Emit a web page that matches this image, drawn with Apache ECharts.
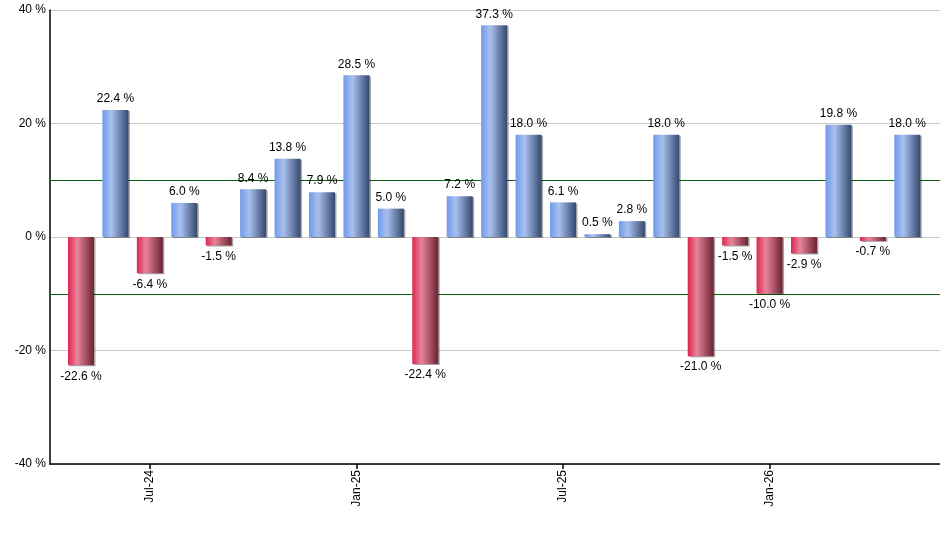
<!DOCTYPE html>
<html>
<head>
<meta charset="utf-8">
<script src="https://cdn.jsdelivr.net/npm/echarts@6/dist/echarts.min.js"></script>
<style>
  html, body { margin: 0; padding: 0; background: #fff; }
  #chart { width: 940px; height: 550px; }
</style>
</head>
<body>
<div id="chart"></div>
<script>
// monthly returns, May-24 .. May-26
const months = [
  "May-24", "Jun-24", "Jul-24", "Aug-24", "Sep-24", "Oct-24", "Nov-24", "Dec-24",
  "Jan-25", "Feb-25", "Mar-25", "Apr-25", "May-25", "Jun-25", "Jul-25", "Aug-25",
  "Sep-25", "Oct-25", "Nov-25", "Dec-25", "Jan-26", "Feb-26", "Mar-26", "Apr-26", "May-26"
];
const returns = [
  -22.6, 22.4, -6.4, 6.0, -1.5, 8.4, 13.8, 7.9,
  28.5, 5.0, -22.4, 7.2, 37.3, 18.0, 6.1, 0.5,
  2.8, 18.0, -21.0, -1.5, -10.0, -2.9, 19.8, -0.7, 18.0
];
const labelMonths = ["Jul-24", "Jan-25", "Jul-25", "Jan-26"];
const bandLines = [10, -10];
const yTicks = [-40, -20, 0, 20, 40];

const FONT = "Liberation Sans";

const grad = (a, b, c) => new echarts.graphic.LinearGradient(0, 0, 1, 0, [
  { offset: 0, color: a },
  { offset: 0.35, color: b },
  { offset: 1, color: c }
]);
const blueFill = grad("#6f9aea", "#a9c0ef", "#34496f");
const redFill = grad("#dc2650", "#e9849b", "#6a2232");

const barData = returns.map((v, i) => ({
  value: [i, v],
  itemStyle: { color: v >= 0 ? blueFill : redFill },
  label: { position: v >= 0 ? "top" : "bottom" }
}));

const tickIdx = labelMonths.map(m => months.indexOf(m));

const chart = echarts.init(document.getElementById("chart"));

chart.setOption({
  animation: false,
  backgroundColor: "#fff",
  grid: { left: 50, right: 0, top: 10, bottom: 86, containLabel: false },
  xAxis: {
    type: "value",
    min: -0.9,
    max: 24.95,
    splitLine: { show: false },
    axisLine: { onZero: false, lineStyle: { color: "#000", width: 1.5 } },
    axisTick: { show: true, customValues: tickIdx, length: 5, lineStyle: { color: "#000", width: 1.5 } },
    axisLabel: {
      customValues: tickIdx,
      rotate: 90,
      margin: 6,
      color: "#000",
      fontFamily: FONT,
      fontSize: 12,
      formatter: v => months[Math.round(v)]
    }
  },
  yAxis: {
    type: "value",
    min: yTicks[0],
    max: yTicks[yTicks.length - 1],
    interval: 20,
    axisLine: { show: true, onZero: false, lineStyle: { color: "#000", width: 1.5 } },
    axisTick: { show: false },
    axisLabel: {
      color: "#000",
      fontFamily: FONT,
      fontSize: 12,
      margin: 4,
      formatter: v => v + " %"
    },
    splitLine: { show: true, lineStyle: { color: "#c8c8c8", width: 1 } }
  },
  series: [
    {
      type: "bar",
      data: barData,
      barWidth: 26,
      itemStyle: {
        shadowColor: "rgba(0,0,0,0.35)",
        shadowOffsetX: 1.5,
        shadowOffsetY: 1,
        shadowBlur: 0
      },
      label: {
        show: true,
        distance: 5,
        color: "#000",
        fontFamily: FONT,
        fontSize: 12,
        formatter: p => p.value[1].toFixed(1) + " %"
      },
      markLine: {
        silent: true,
        z: 1,
        symbol: "none",
        label: { show: false },
        lineStyle: { color: "#0a640a", width: 1.2, type: "solid" },
        data: bandLines.map(y => ({ yAxis: y }))
      },
      z: 3
    }
  ]
});
</script>
</body>
</html>
